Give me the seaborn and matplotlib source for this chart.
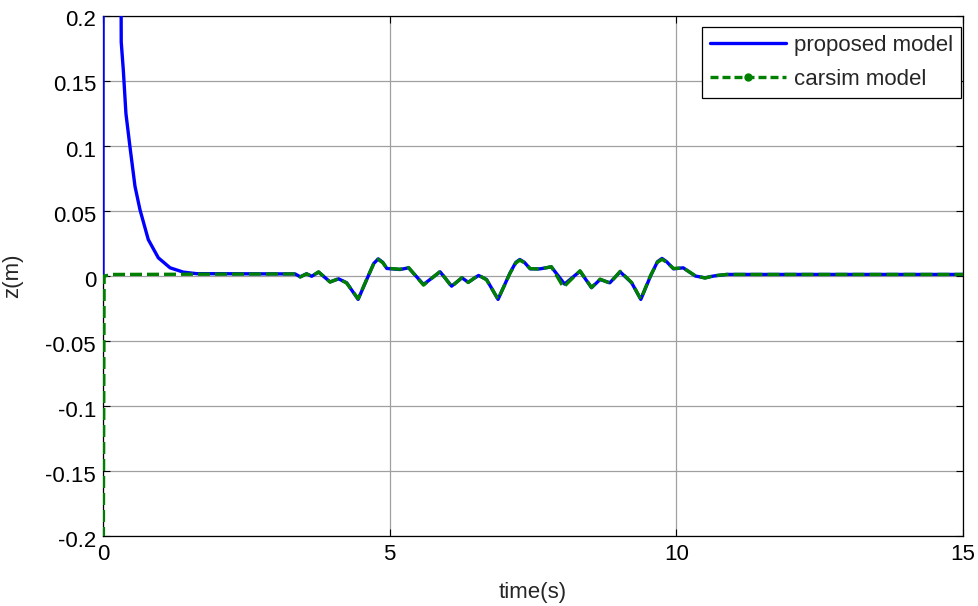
import matplotlib
matplotlib.use("Agg")
import matplotlib.pyplot as plt
import matplotlib.transforms as mtransforms
from matplotlib.lines import Line2D
from matplotlib.ticker import FuncFormatter
import pandas as pd
import seaborn as sns

# Vertical displacement z (m) over time (s)
t_proposed = [0.0, 0.002, 0.31, 0.318, 0.355, 0.40, 0.47, 0.558, 0.645, 0.79, 0.965,
              1.17, 1.40, 1.63, 3.35, 3.44, 3.55, 3.64, 3.76, 3.96, 4.11, 4.25, 4.45,
              4.60, 4.72, 4.80, 4.88, 4.95, 5.18, 5.33, 5.59, 5.88, 6.08, 6.26, 6.37,
              6.55, 6.69, 6.89, 7.10, 7.20, 7.27, 7.35, 7.45, 7.62, 7.82, 8.05, 8.32,
              8.52, 8.67, 8.84, 9.02, 9.22, 9.38, 9.55, 9.67, 9.75, 9.83, 9.95, 10.12,
              10.33, 10.50, 10.65, 10.88, 15.0]
z_proposed = [0.0, 0.30, 0.30, 0.180, 0.158, 0.125, 0.0995, 0.069, 0.051, 0.028, 0.014,
              0.0063, 0.003, 0.0018, 0.0016, -0.0006, 0.0017, -0.0002, 0.003, -0.0045,
              -0.0022, -0.0052, -0.018, -0.0027, 0.0095, 0.0132, 0.0105, 0.0058, 0.005,
              0.0063, -0.0065, 0.0032, -0.0078, -0.0014, -0.0048, 0.0004, -0.0027,
              -0.018, 0.0025, 0.0105, 0.0127, 0.0105, 0.0055, 0.0055, 0.007, -0.0062,
              0.0037, -0.009, -0.0027, -0.0052, 0.0032, -0.0052, -0.018, 0.0, 0.011,
              0.0135, 0.011, 0.0055, 0.0063, 0.0, -0.0014, 0.0, 0.0012, 0.0012]

t_carsim = [0.0, 0.02, 0.17, 3.35, 3.44, 3.55, 3.64, 3.76, 3.96, 4.11, 4.25, 4.45,
            4.60, 4.72, 4.80, 4.88, 4.95, 5.18, 5.33, 5.59, 5.88, 6.08, 6.26, 6.37,
            6.55, 6.69, 6.89, 7.10, 7.20, 7.27, 7.35, 7.45, 7.62, 7.82, 8.03, 8.32,
            8.52, 8.67, 8.84, 9.02, 9.22, 9.38, 9.55, 9.67, 9.75, 9.83, 9.95, 10.12,
            10.33, 10.50, 10.65, 10.88, 15.0]
z_carsim = [-0.30, 0.0, 0.0012, 0.0016, -0.0008, 0.0017, -0.0003, 0.0032, -0.0047,
            -0.0020, -0.0055, -0.0175, -0.0025, 0.0092, 0.0128, 0.0102, 0.0060, 0.0052,
            0.0065, -0.0070, 0.0036, -0.0082, -0.0012, -0.0050, 0.0008, -0.0030,
            -0.0178, 0.0022, 0.0100, 0.0122, 0.0102, 0.0057, 0.0053, 0.0072, -0.0086,
            0.0040, -0.0088, -0.0024, -0.0055, 0.0036, -0.0050, -0.0178, 0.0004,
            0.0106, 0.0128, 0.0106, 0.0058, 0.0062, 0.0002, -0.0016, 0.0002, 0.0012,
            0.0012]

x_ticks = [0, 5, 10, 15]
y_ticks = [-0.2, -0.15, -0.1, -0.05, 0, 0.05, 0.1, 0.15, 0.2]
series_labels = ["proposed model", "carsim model"]

FS = 16

sns.set_theme(style="white")
plt.rcParams["font.family"] = ["Liberation Sans", "DejaVu Sans"]
plt.rcParams["axes.unicode_minus"] = False

fig = plt.figure(figsize=(9.79, 6.06), dpi=100)
ax = fig.add_axes([0.1052, 0.1155, 0.8785, 0.8581])

df_p = pd.DataFrame({"t": t_proposed, "z": z_proposed})
df_c = pd.DataFrame({"t": t_carsim, "z": z_carsim})

sns.lineplot(data=df_p, x="t", y="z", ax=ax, color="#0000ff", linewidth=2.4,
             estimator=None, sort=False, zorder=3)
sns.lineplot(data=df_c, x="t", y="z", ax=ax, color="#008000", linewidth=2.4,
             estimator=None, sort=False, zorder=4)
ax.lines[-1].set_linestyle((0, (3.6, 1.5)))

ax.set_xlim(0, 15)
ax.set_ylim(-0.2, 0.2)
ax.set_xticks(x_ticks)
ax.set_yticks(y_ticks)
ax.yaxis.set_major_formatter(FuncFormatter(lambda v, p: "%g" % round(v, 4)))
ax.xaxis.set_major_formatter(FuncFormatter(lambda v, p: "%g" % v))

ax.grid(True, color="#a0a0a0", linewidth=0.9, linestyle="-")
ax.set_axisbelow(True)
for s in ax.spines.values():
    s.set_visible(True)
    s.set_color("black")
    s.set_linewidth(0.9)

ax.tick_params(direction="in", length=5, width=0.8, colors="black",
               top=True, right=True, bottom=True, left=True,
               labelsize=FS)
ax.tick_params(axis="x", pad=6)
ax.tick_params(axis="y", pad=5)

# y tick labels sit a little below their ticks
shift = mtransforms.ScaledTranslation(0, -2.5 / 100, fig.dpi_scale_trans)
for lbl in ax.get_yticklabels():
    lbl.set_transform(lbl.get_transform() + shift)

ax.set_xlabel("time(s)", fontsize=FS, labelpad=12)
ax.set_ylabel("z(m)", fontsize=FS, labelpad=16)

handles = [
    Line2D([], [], color="#0000ff", linewidth=2.4, linestyle="-"),
    Line2D([], [], color="#008000", linewidth=2.4, linestyle=(0, (2.4, 1.2)),
           marker=".", markersize=10),
]
leg = ax.legend(handles, series_labels, loc="upper right",
                bbox_to_anchor=(0.9977, 0.9788), borderaxespad=0, fontsize=FS,
                frameon=True, fancybox=False, framealpha=1, edgecolor="black",
                handlelength=3.4, handletextpad=0.36, labelspacing=0.58,
                borderpad=0.36)
leg.get_frame().set_linewidth(0.9)

fig.savefig("out.png", dpi=100, facecolor="white")
